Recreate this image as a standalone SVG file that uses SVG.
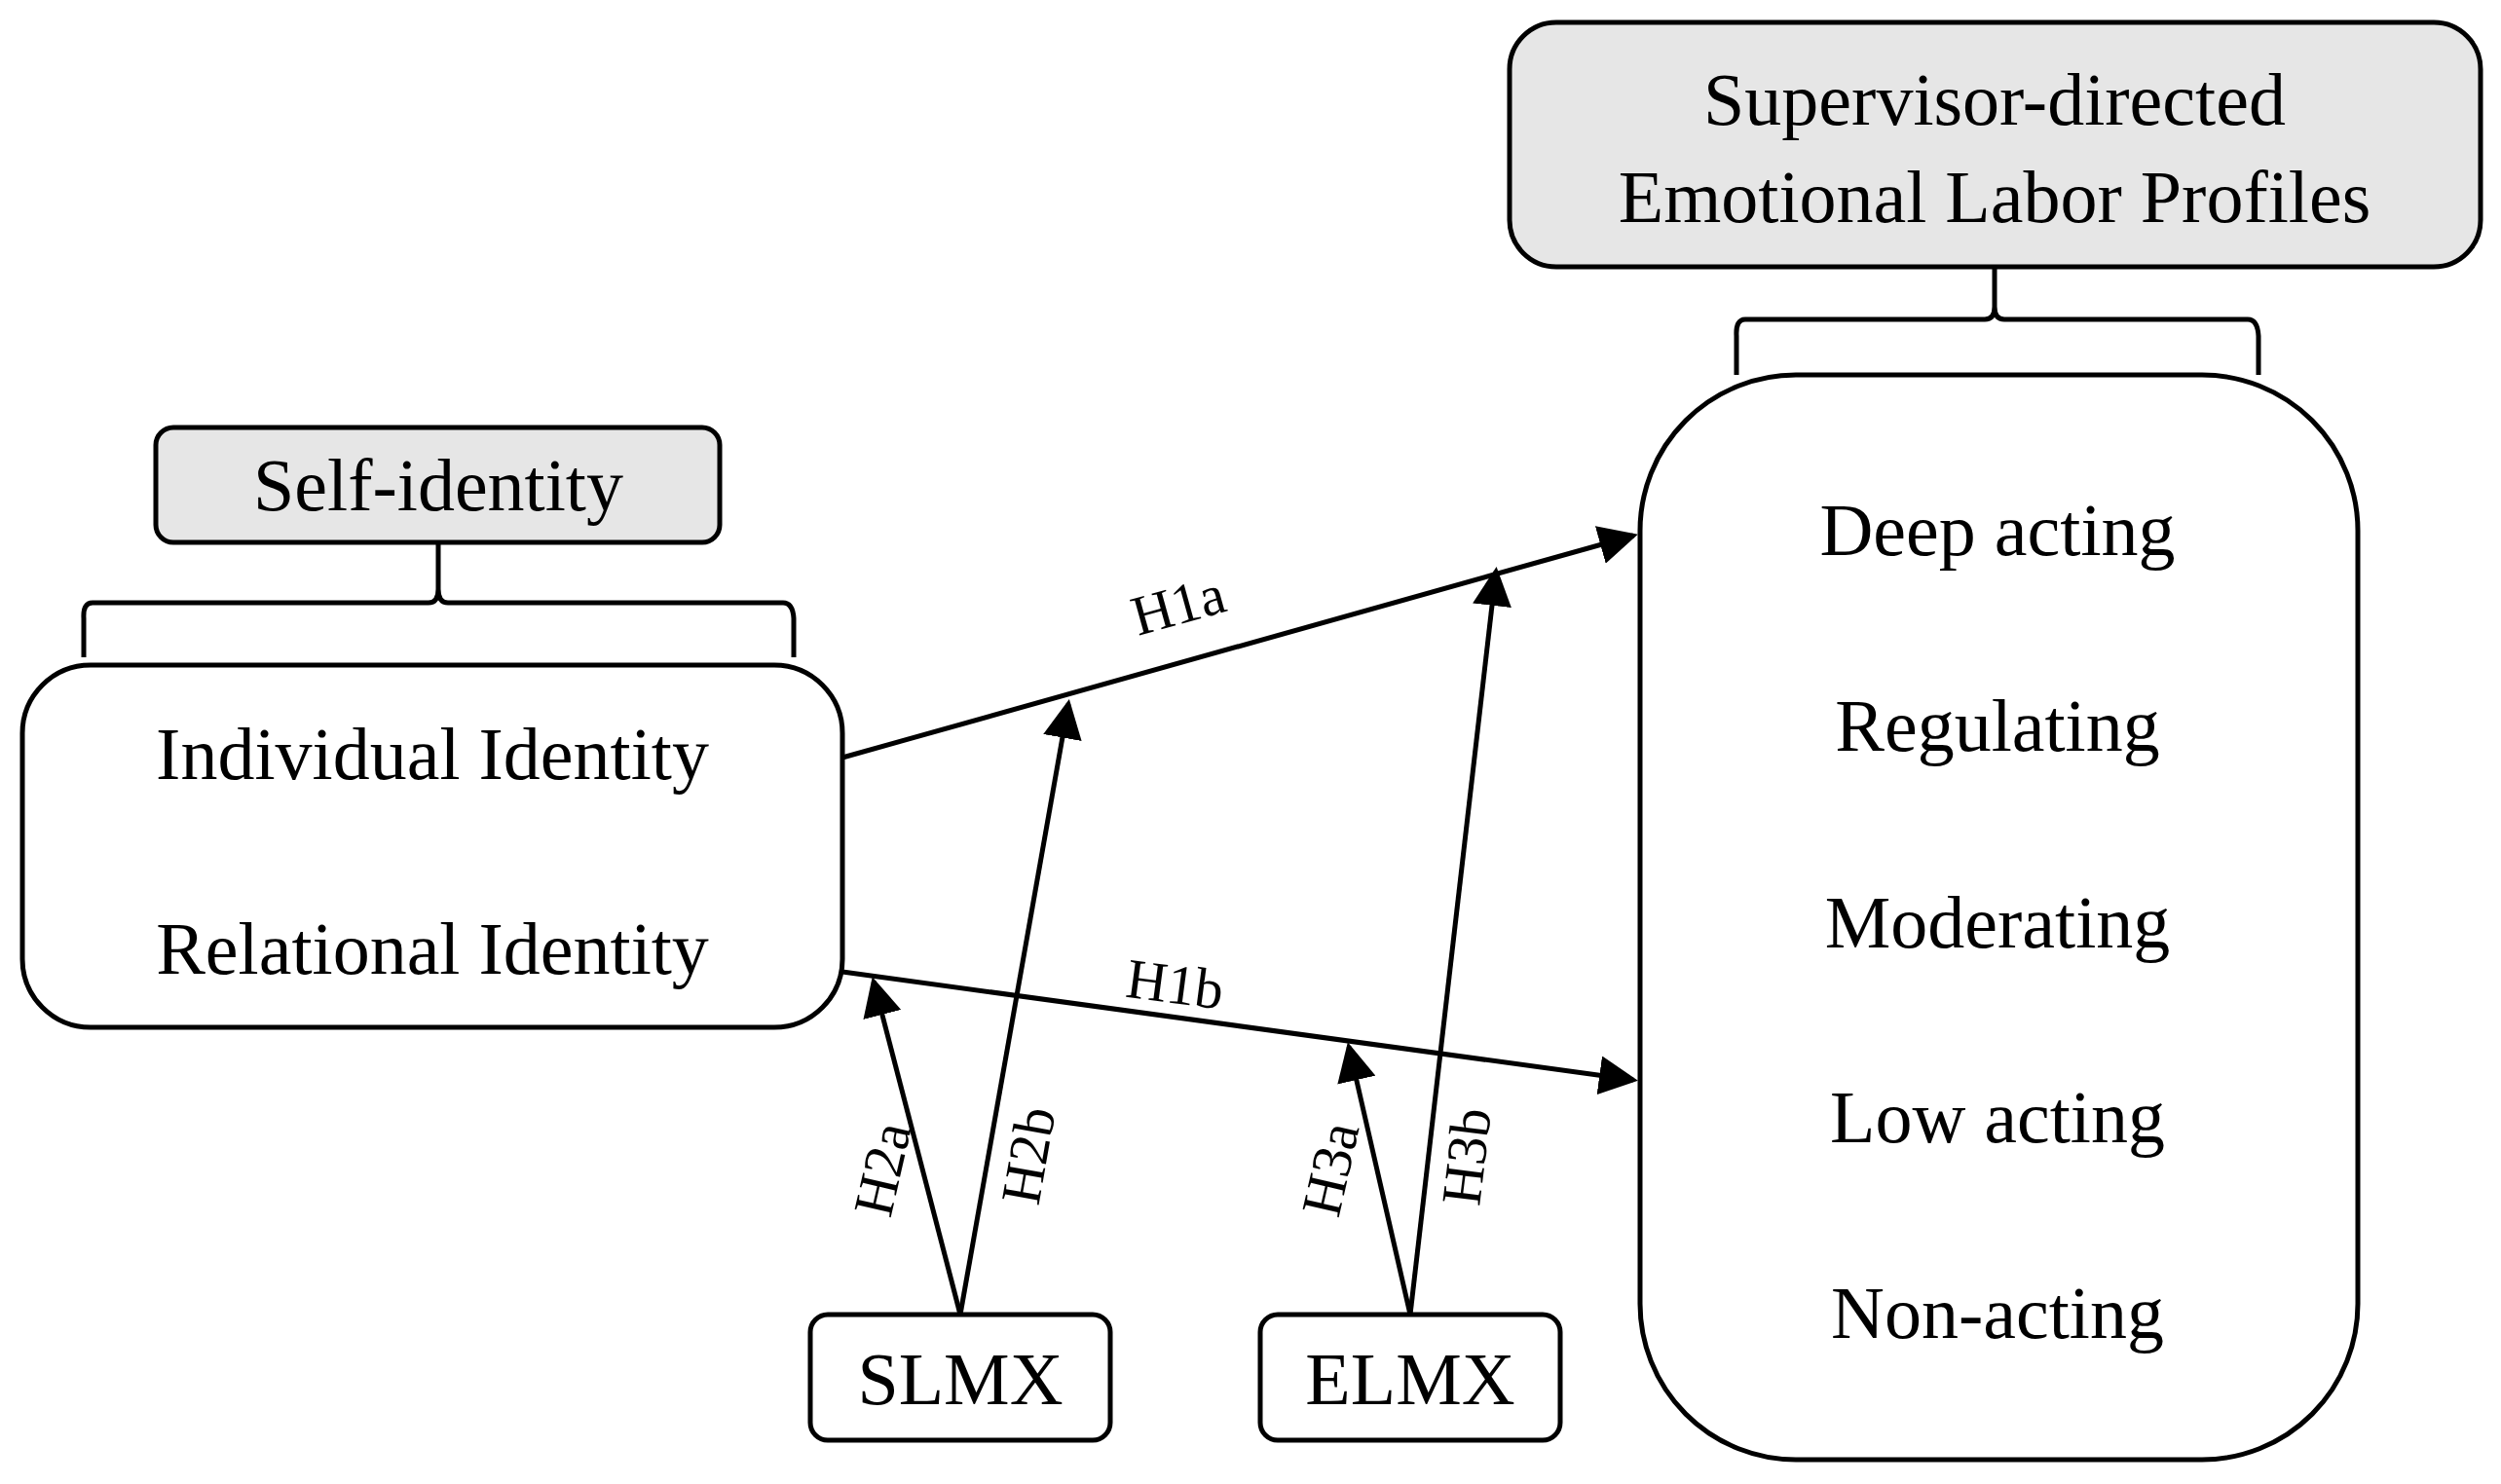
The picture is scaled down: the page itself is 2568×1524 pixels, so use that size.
<svg xmlns="http://www.w3.org/2000/svg" width="2568" height="1524" viewBox="0 0 2568 1524">
<style>
.b{fill:#fff;stroke:#000;stroke-width:5}
.g{fill:#e6e6e6;stroke:#000;stroke-width:5}
.l{fill:none;stroke:#000;stroke-width:5}
text{font-family:"Liberation Serif","Times New Roman",serif;fill:#000;text-anchor:middle}
.t{font-size:76px}
.s{font-size:58px}
</style>
<defs><marker id="a" markerWidth="8" markerHeight="8" refX="7" refY="4" orient="auto" markerUnits="strokeWidth"><path d="M0,0 L8,4 L0,8 z" fill="#000"/></marker></defs>
<rect width="2568" height="1524" fill="#fff"/>
<g id="self">
<rect class="g" x="160" y="439" width="579" height="118" rx="18"/>
<text class="t" x="450" y="524">Self-identity</text>
<path class="l" d="M450,557 V605 Q450,619 440,619 H95 Q85,619 86,635 V675 M450,605 Q450,619 460,619 H804 Q814,619 815,635 V675"/>
</g>
<g id="identity">
<rect class="b" x="23" y="683" width="842" height="372" rx="70"/>
<text class="t" x="444" y="800">Individual Identity</text>
<text class="t" x="444" y="1000">Relational Identity</text>
</g>
<g id="profilesHead">
<rect class="g" x="1550" y="23" width="997" height="251" rx="48"/>
<text class="t" x="2048" y="128">Supervisor-directed</text>
<text class="t" x="2048" y="228">Emotional Labor Profiles</text>
<path class="l" d="M2048,274 V315 Q2048,328 2038,328 H1792 Q1782,328 1783,345 V385 M2048,315 Q2048,328 2058,328 H2308 Q2318,328 2319,345 V385"/>
</g>
<g id="profiles">
<rect class="b" x="1684" y="385" width="737" height="1114" rx="160"/>
<text class="t" x="2051" y="570">Deep acting</text>
<text class="t" x="2051" y="771">Regulating</text>
<text class="t" x="2051" y="973">Moderating</text>
<text class="t" x="2051" y="1173">Low acting</text>
<text class="t" x="2051" y="1374">Non-acting</text>
</g>
<g id="slmx"><rect class="b" x="832" y="1350" width="308" height="129" rx="18"/><text class="t" x="986" y="1442">SLMX</text></g>
<g id="elmx"><rect class="b" x="1294" y="1350" width="308" height="129" rx="18"/><text class="t" x="1448" y="1442">ELMX</text></g>
<g id="connectors">
<line class="l" x1="865" y1="778" x2="1677" y2="550" marker-end="url(#a)"/>
<line class="l" x1="865" y1="998" x2="1677" y2="1109" marker-end="url(#a)"/>
<line class="l" x1="986" y1="1350" x2="897" y2="1008" marker-end="url(#a)"/>
<line class="l" x1="986" y1="1350" x2="1097" y2="723" marker-end="url(#a)"/>
<line class="l" x1="1448" y1="1350" x2="1385" y2="1075" marker-end="url(#a)"/>
<line class="l" x1="1448" y1="1350" x2="1536" y2="587" marker-end="url(#a)"/>
<text class="s" transform="translate(1215,640) rotate(-15.5)">H1a</text>
<text class="s" transform="translate(1204,1030) rotate(7.5)">H1b</text>
<text class="s" transform="translate(925,1205) rotate(-77)">H2a</text>
<text class="s" transform="translate(1075,1190) rotate(-80)">H2b</text>
<text class="s" transform="translate(1385,1205) rotate(-77)">H3a</text>
<text class="s" transform="translate(1525,1190) rotate(-83)">H3b</text>
</g>
</svg>
